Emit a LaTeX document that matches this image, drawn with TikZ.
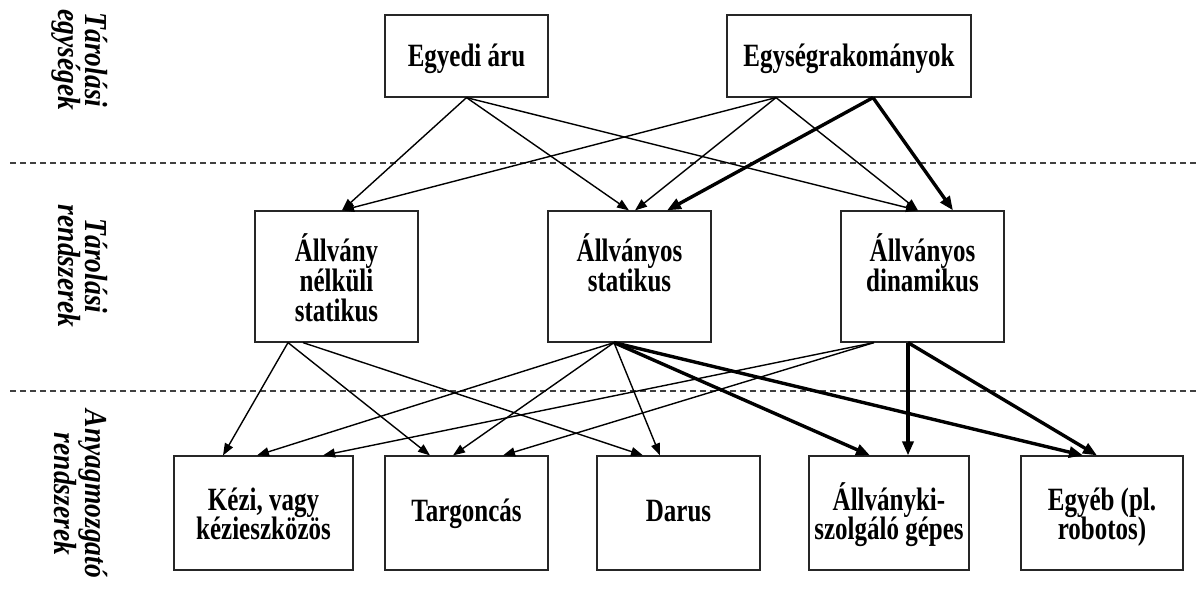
\documentclass[tikz,border=0pt]{standalone}
\usepackage{fontspec}
\setmainfont{Liberation Serif}
\usetikzlibrary{arrows.meta}

% box text: a tall, top-aligned paragraph whose first baseline sits #1 above the box centre
\newcommand\boxtext[3]{\raisebox{#1}[0pt][0pt]{\scalebox{1}[1.3]{\parbox[t]{#2}{\centering #3}}}}
% side caption: first baseline through the node centre
\newcommand\captext[1]{\raisebox{0pt}[0pt][0pt]{\scalebox{1.1}[1.28]{\parbox[t]{200pt}{\centering #1}}}}

\tikzset{
  box/.style={draw=black!85, line width=1.2pt, inner sep=0pt,
    font=\bfseries\fontsize{25}{23}\selectfont},
  thin arrow/.style={line width=1.4pt, -{Triangle[length=12pt,width=9pt]}},
  thick arrow/.style={line width=3.4pt, -{Triangle[length=14pt,width=11pt]}},
  divider/.style={line width=1.2pt, draw=black!75, dash pattern=on 6pt off 4pt},
  side label/.style={rotate=-90, inner sep=0pt,
    font=\bfseries\itshape\fontsize{25}{20.5}\selectfont},
}

\begin{document}
\begin{tikzpicture}[x=1pt, y=-1pt]
\useasboundingbox (0,0) rectangle (1199,590);

% level separators
\coordinate (d1l) at (10,163);  \coordinate (d1r) at (1199,163);
\coordinate (d2l) at (10,391);  \coordinate (d2r) at (1199,391);
\draw[divider] (d1l) -- (d1r);
\draw[divider] (d2l) -- (d2r);

% level captions
\node[side label] (cap1) at (85,60)  {\captext{Tárolási\\egységek}};
\node[side label] (cap2) at (85,266) {\captext{Tárolási\\rendszerek}};
\node[side label] (cap3) at (85,494) {\captext{Anyagmozgató\\rendszerek}};

% storage units
\node[box, minimum width=163pt, minimum height=82pt] (egyedi) at (466.5,56)
  {\boxtext{-10pt}{160pt}{Egyedi áru}};
\node[box, minimum width=244pt, minimum height=82pt] (egyseg) at (849,56)
  {\boxtext{-10pt}{240pt}{Egységrakományok}};

% storage systems
\node[box, minimum width=163pt, minimum height=131pt] (nelkuli) at (336.5,276.5)
  {\boxtext{15pt}{160pt}{Állvány\\nélküli\\statikus}};
\node[box, minimum width=163pt, minimum height=131pt] (allstat) at (629.5,276.5)
  {\boxtext{15pt}{160pt}{Állványos\\statikus}};
\node[box, minimum width=163pt, minimum height=131pt] (alldin) at (922.5,276.5)
  {\boxtext{15pt}{160pt}{Állványos\\dinamikus}};

% material handling systems
\node[box, minimum width=179pt, minimum height=114pt] (kezi) at (263.5,513)
  {\boxtext{3pt}{176pt}{Kézi, vagy\\kézieszközös}};
\node[box, minimum width=163pt, minimum height=114pt] (targ) at (466.5,513)
  {\boxtext{-8pt}{160pt}{Targoncás}};
\node[box, minimum width=163pt, minimum height=114pt] (darus) at (678.5,513)
  {\boxtext{-8pt}{160pt}{Darus}};
\node[box, minimum width=160pt, minimum height=114pt] (allki) at (889,513)
  {\boxtext{3pt}{158pt}{Állványki-\\szolgáló gépes}};
\node[box, minimum width=162pt, minimum height=114pt] (egyeb) at (1102,513)
  {\boxtext{3pt}{160pt}{Egyéb (pl.\\robotos)}};

% storage units -> storage systems
\draw[thin arrow] (egyedi.south) -- ([xshift=5.5pt]nelkuli.north);
\draw[thin arrow] (egyedi.south) -- ([xshift=-0.5pt]allstat.north);
\draw[thin arrow] (egyedi.south) -- ([xshift=-4.5pt]alldin.north);
\draw[thin arrow] ([xshift=-73pt]egyseg.south) -- ([xshift=5.5pt]nelkuli.north);
\draw[thin arrow] ([xshift=-73pt]egyseg.south) -- ([xshift=5.5pt]allstat.north);
\draw[thin arrow] ([xshift=-73pt]egyseg.south) -- ([xshift=-4.5pt]alldin.north);
\draw[thick arrow] ([xshift=24pt]egyseg.south) -- ([xshift=37.5pt]allstat.north);
\draw[thick arrow] ([xshift=24pt]egyseg.south) -- ([xshift=30.5pt]alldin.north);

% storage systems -> material handling systems
\draw[thin arrow] ([xshift=-48.5pt]nelkuli.south) -- ([xshift=-40.5pt]kezi.north);
\draw[thin arrow] ([xshift=-48.5pt]nelkuli.south) -- ([xshift=-36.5pt]targ.north);
\draw[thin arrow] ([xshift=-33.5pt]nelkuli.south) -- ([xshift=-35.5pt]darus.north);

\draw[thin arrow] ([xshift=-15.5pt]allstat.south) -- ([xshift=-6.5pt]kezi.north);
\draw[thin arrow] ([xshift=-15.5pt]allstat.south) -- ([xshift=-13.5pt]targ.north);
\draw[thin arrow] ([xshift=-15.5pt]allstat.south) -- ([xshift=-18.5pt]darus.north);
\draw[thick arrow] ([xshift=-15.5pt]allstat.south) -- ([xshift=-19pt]allki.north);
\draw[thick arrow] ([xshift=-15.5pt]allstat.south) -- ([xshift=-19pt]egyeb.north);

\draw[thin arrow] ([xshift=-48.5pt]alldin.south) -- ([xshift=59.5pt]kezi.north);
\draw[thin arrow] ([xshift=-48.5pt]alldin.south) -- ([xshift=36.5pt]targ.north);
\draw[thick arrow] ([xshift=-14.5pt]alldin.south) -- ([xshift=19pt]allki.north);
\draw[thick arrow] ([xshift=-14.5pt]alldin.south) -- ([xshift=-5pt]egyeb.north);
\end{tikzpicture}
\end{document}
